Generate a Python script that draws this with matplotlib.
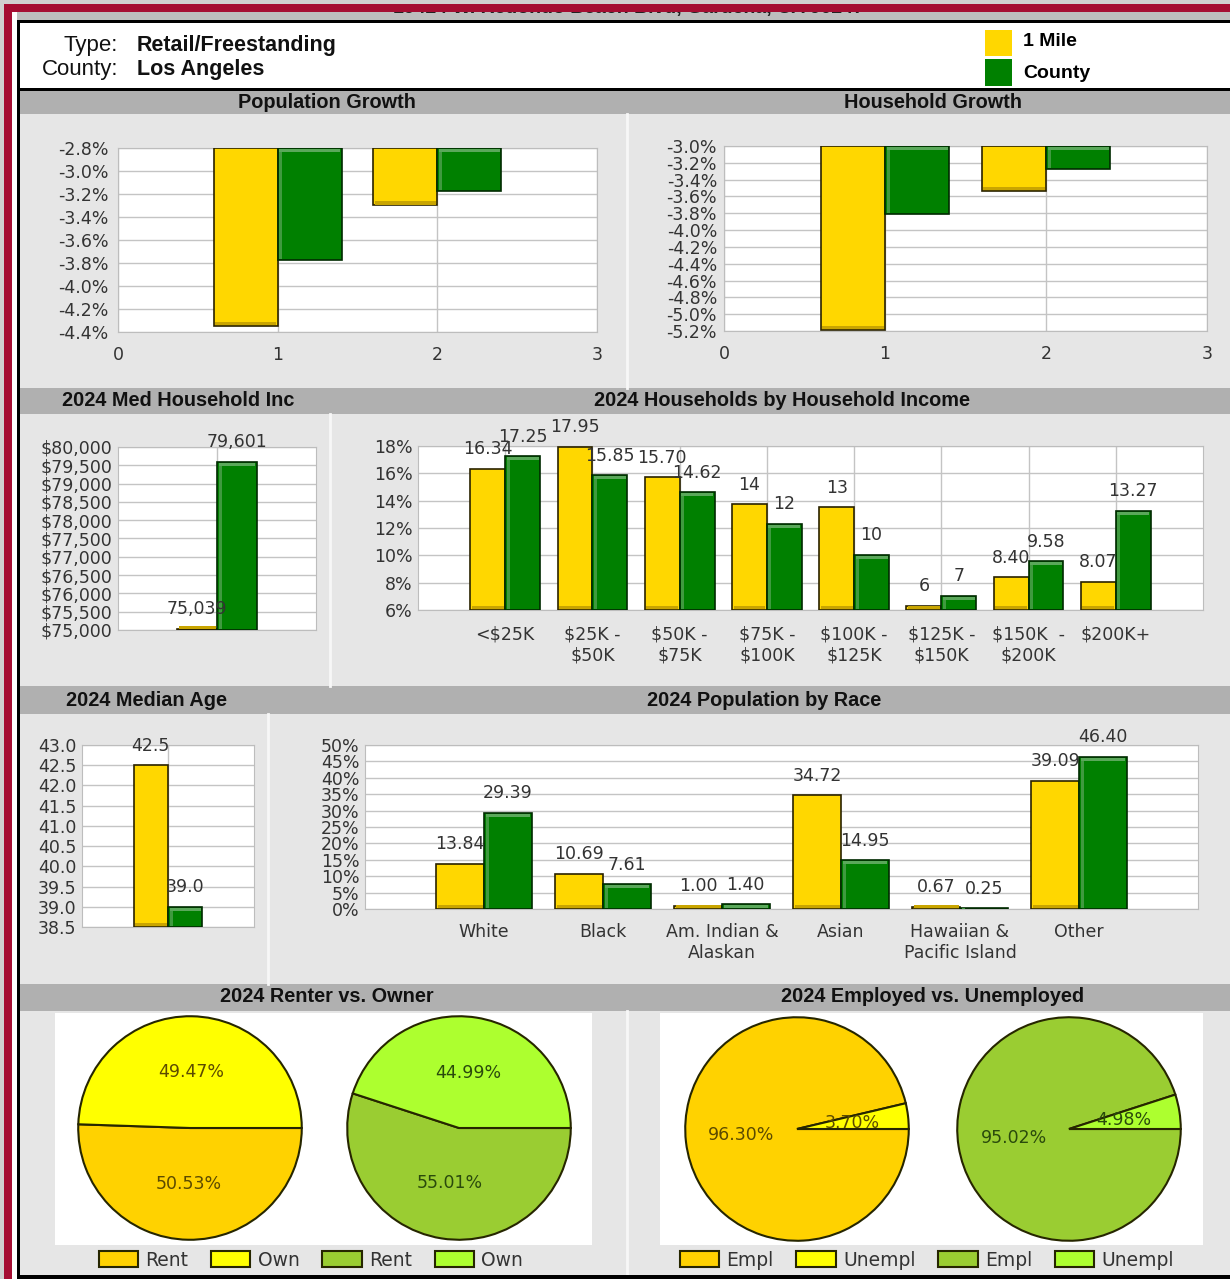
import numpy as np
import matplotlib.pyplot as plt
from matplotlib.patches import Rectangle
from matplotlib.ticker import FuncFormatter, MultipleLocator

W, H = 1230, 1279

# ---- data ----
address = "19424 W. Redondo Beach Blvd, Gardena, CA 90247"
prop_type = "Retail/Freestanding"
county = "Los Angeles"
series_names = ["1 Mile", "County"]

growth_x = [1, 2]
pop_growth_1mile = [-4.35, -3.30]
pop_growth_county = [-3.77, -3.17]
hh_growth_1mile = [-5.19, -3.54]
hh_growth_county = [-3.81, -3.27]

med_income = [75039, 79601]
med_age = [42.5, 39.0]

income_cats = ["<$25K", "$25K -\n$50K", "$50K -\n$75K", "$75K -\n$100K",
               "$100K -\n$125K", "$125K -\n$150K", "$150K  -\n$200K", "$200K+"]
income_1mile = [16.34, 17.95, 15.70, 13.75, 13.50, 6.30, 8.40, 8.07]
income_county = [17.25, 15.85, 14.62, 12.30, 10.05, 7.05, 9.58, 13.27]
income_1mile_lbl = ["16.34", "17.95", "15.70", "14", "13", "6", "8.40", "8.07"]
income_county_lbl = ["17.25", "15.85", "14.62", "12", "10", "7", "9.58", "13.27"]

race_cats = ["White", "Black", "Am. Indian &\nAlaskan", "Asian",
             "Hawaiian &\nPacific Island", "Other"]
race_1mile = [13.84, 10.69, 1.00, 34.72, 0.67, 39.09]
race_county = [29.39, 7.61, 1.40, 14.95, 0.25, 46.40]

tenure_labels = ["Rent", "Own"]
tenure_1mile = [50.53, 49.47]
tenure_county = [55.01, 44.99]
empl_labels = ["Empl", "Unempl"]
empl_1mile = [96.30, 3.70]
empl_county = [95.02, 4.98]

YELLOW = "#ffd700"
GREEN = "#008000"
TXT = "#333333"
HDR = "Liberation Sans"
FS = 12.5

fig = plt.figure(figsize=(W / 100, H / 100), dpi=100)
fig.patch.set_facecolor("#e6e6e6")

# background layer in pixel coordinates
bg = fig.add_axes([0, 0, 1, 1])
bg.set_xlim(0, W)
bg.set_ylim(H, 0)
bg.axis("off")


def rect(x0, y0, x1, y1, color, z=0):
    bg.add_patch(Rectangle((x0, y0), x1 - x0, y1 - y0, facecolor=color,
                           edgecolor="none", zorder=z))


rect(0, 0, W, 20, "#bdbdbd")
bg.text(628, 9, address, ha="center", va="center", fontsize=14,
        fontweight="bold", family=HDR, color="#222222", zorder=1)
rect(0, 0, W, 4, "#d0d0d0", 2)
rect(0, 4, W, 12, "#a50d32", 2)
rect(0, 4, 4, H, "#d0d0d0", 2)
rect(4, 4, 12, H, "#a50d32", 2)
rect(12, 12, 17, H, "#ffffff", 2)
rect(17, 20, 20, H, "#000000", 2)
rect(20, 20, W, 23, "#000000", 2)
rect(20, 23, W, 88, "#ffffff", 1)
rect(20, 88, W, 91, "#000000", 2)
rect(20, 1275, W, H, "#000000", 2)

# section header bars
for y0, y1 in [(91, 114), (388, 414), (686, 714), (984, 1011)]:
    rect(20, y0, W, y1, "#b0b0b0", 1)
# panel separators
for x, y0, y1 in [(627, 114, 388), (330, 414, 686), (268, 714, 984), (627, 1011, 1275)]:
    bg.plot([x, x], [y0, y1], color="#f7f7f7", lw=2, zorder=1)

titles = [("Population Growth", 327, 102), ("Household Growth", 933, 102),
          ("2024 Med Household Inc", 178, 401),
          ("2024 Households by Household Income", 782, 401),
          ("2024 Median Age", 147, 700), ("2024 Population by Race", 764, 700),
          ("2024 Renter vs. Owner", 327, 997),
          ("2024 Employed vs. Unemployed", 933, 997)]
for t, x, y in titles:
    bg.text(x, y, t, ha="center", va="center", fontsize=14.3, fontweight="bold",
            family=HDR, color="#111111", zorder=3)

# property info + legend
for y, lab, val in [(45, "Type:", prop_type), (69, "County:", county)]:
    bg.text(118, y, lab, ha="right", va="center", fontsize=16, family=HDR,
            color="#111111", zorder=3)
    bg.text(137, y, val, ha="left", va="center", fontsize=15.5, fontweight="bold",
            family=HDR, color="#111111", zorder=3)
rect(985, 30, 1012, 56, YELLOW, 3)
rect(985, 59, 1012, 86, GREEN, 3)
bg.text(1023, 42, series_names[0], ha="left", va="center", fontsize=14,
        fontweight="bold", family=HDR, zorder=3)
bg.text(1023, 73, series_names[1], ha="left", va="center", fontsize=14,
        fontweight="bold", family=HDR, zorder=3)

# pie white boxes
rect(55, 1013, 592, 1245, "#ffffff", 1)
rect(660, 1013, 1203, 1245, "#ffffff", 1)


def px_axes(x0, y0, x1, y1):
    return fig.add_axes([x0 / W, 1 - y1 / H, (x1 - x0) / W, (y1 - y0) / H])


def style(ax, ylo, yhi, step, fmt, xlim, xticks, xlabels, xpad=9, ypad=5, vgrid=True):
    ax.set_facecolor("white")
    ax.set_ylim(ylo, yhi)
    ax.set_xlim(*xlim)
    ax.yaxis.set_major_locator(MultipleLocator(step))
    ax.yaxis.set_major_formatter(FuncFormatter(fmt))
    ax.set_xticks(xticks)
    ax.set_xticklabels(xlabels)
    ax.grid(True, axis="y", color="#c4c4c4", lw=1, zorder=0)
    if vgrid:
        ax.grid(True, axis="x", color="#c4c4c4", lw=1, zorder=0)
    ax.set_axisbelow(True)
    for s in ax.spines.values():
        s.set_color("#bdbdbd")
    ax.tick_params(axis="y", length=0, labelsize=FS, labelcolor=TXT, pad=ypad)
    ax.tick_params(axis="x", length=0, labelsize=FS, labelcolor=TXT, pad=xpad)


def bar_pair(ax, x, v1, v2, base, width=0.4):
    x = np.asarray(x, dtype=float)
    v1 = np.asarray(v1, dtype=float)
    v2 = np.asarray(v2, dtype=float)
    ax.bar(x - width / 2, v1 - base, width, bottom=base, color=YELLOW,
           edgecolor="#2a2200", linewidth=1.2, zorder=3)
    ax.bar(x + width / 2, v2 - base, width, bottom=base, color=GREEN,
           edgecolor="#002a00", linewidth=1.2, zorder=3)
    # bevel: 3px strips, light on top/left of green, dark at the bottom of yellow
    pos = ax.get_position()
    y0, y1 = ax.get_ylim()
    x0, x1 = ax.get_xlim()
    py = (y1 - y0) / (pos.height * H)
    px = (x1 - x0) / (pos.width * W)
    s = 3
    lo1 = np.minimum(v1, base)
    lo2, hi2 = np.minimum(v2, base), np.maximum(v2, base)
    ax.bar(x - width / 2, s * py, width - 3 * px, bottom=lo1 + 1 * py,
           color="#c9a500", linewidth=0, zorder=3.5)
    ax.bar(x + width / 2, s * py, width - 3 * px, bottom=hi2 - (s + 1) * py,
           color="#5aa85a", linewidth=0, zorder=3.5)
    ax.bar(x + 1.5 * px + s * px / 2, hi2 - lo2 - 2 * py, s * px, bottom=lo2 + py,
           color="#3f9a3f", linewidth=0, zorder=3.4)


def bar_labels(ax, x, vals, labels, dx):
    for xi, v, s in zip(x, vals, labels):
        ax.annotate(s, (xi + dx, v), xytext=(0, 14), textcoords="offset points",
                    ha="center", va="center", fontsize=FS, color=TXT, zorder=4)


pct1 = lambda v, p: f"{v:.1f}%"
pct0 = lambda v, p: f"{v:.0f}%"

# Population growth
ax = px_axes(118, 148, 597, 332)
style(ax, -4.4, -2.8, 0.2, pct1, (0, 3), [0, 1, 2, 3], ["0", "1", "2", "3"], xpad=10, ypad=7)
bar_pair(ax, growth_x, pop_growth_1mile, pop_growth_county, -2.8)

# Household growth
ax = px_axes(724, 146, 1207, 331)
style(ax, -5.2, -3.0, 0.2, pct1, (0, 3), [0, 1, 2, 3], ["0", "1", "2", "3"], xpad=10, ypad=5)
bar_pair(ax, growth_x, hh_growth_1mile, hh_growth_county, -3.0)

# Median household income
ax = px_axes(118, 447, 316, 630)
style(ax, 75000, 80000, 500, lambda v, p: f"${v:,.0f}", (0, 2), [1], [""], ypad=4)
bar_pair(ax, [1], [med_income[0]], [med_income[1]], 75000)
bar_labels(ax, [1], [med_income[0]], [f"{med_income[0]:,}"], -0.2)
bar_labels(ax, [1], [med_income[1]], [f"{med_income[1]:,}"], 0.2)

# Households by income
ix = np.arange(1, len(income_cats) + 1)
ax = px_axes(418, 446, 1203, 610)
style(ax, 6, 18, 2, pct0, (0, len(income_cats) + 1), ix, income_cats, xpad=11, ypad=4)
bar_pair(ax, ix, income_1mile, income_county, 6)
bar_labels(ax, ix, income_1mile, income_1mile_lbl, -0.2)
bar_labels(ax, ix, income_county, income_county_lbl, 0.2)

# Median age
ax = px_axes(82, 745, 254, 927)
style(ax, 38.5, 43.0, 0.5, lambda v, p: f"{v:.1f}", (0, 2), [1], [""], ypad=4)
bar_pair(ax, [1], [med_age[0]], [med_age[1]], 38.5)
bar_labels(ax, [1], [med_age[0]], [f"{med_age[0]:.1f}"], -0.2)
bar_labels(ax, [1], [med_age[1]], [f"{med_age[1]:.1f}"], 0.2)

# Population by race
rx = np.arange(1, len(race_cats) + 1)
ax = px_axes(365, 745, 1198, 909)
style(ax, 0, 50, 5, pct0, (0, len(race_cats) + 1), rx, race_cats, xpad=10, ypad=4,
      vgrid=False)
bar_pair(ax, rx, race_1mile, race_county, 0)
bar_labels(ax, rx, race_1mile, [f"{v:.2f}" for v in race_1mile], -0.2)
bar_labels(ax, rx, race_county, [f"{v:.2f}" for v in race_county], 0.2)


# Pies
def pie(cx, cy, vals, colors, tcolor):
    ax = px_axes(cx - 114, cy - 114, cx + 114, cy + 114)
    wedges, _, _ = ax.pie(vals, colors=colors, startangle=0, counterclock=False,
                          autopct="%.2f%%", pctdistance=0.5, radius=1,
                          wedgeprops=dict(edgecolor="#262600", linewidth=1.5),
                          textprops=dict(fontsize=FS, color=tcolor))
    ax.set_xlim(-1.02, 1.02)
    ax.set_ylim(-1.02, 1.02)
    return wedges


w1 = pie(190, 1128, tenure_1mile, ["#ffd200", "#ffff00"], "#5b4a00")
w2 = pie(459, 1128, tenure_county, ["#9acd32", "#adff2f"], "#2a4a0c")
w3 = pie(797, 1129, empl_1mile, ["#ffd200", "#ffff00"], "#5b4a00")
w4 = pie(1069, 1129, empl_county, ["#9acd32", "#adff2f"], "#2a4a0c")

for wl, labels, cx in [(list(w1) + list(w2), tenure_labels * 2, 311),
                       (list(w3) + list(w4), empl_labels * 2, 927)]:
    fig.legend(wl, labels, loc="center", bbox_to_anchor=(cx / W, 1 - 1260 / H),
               ncol=4, frameon=False, fontsize=13.5, handlelength=2.1,
               handleheight=0.95, columnspacing=1.2, handletextpad=0.4,
               labelcolor="#333333")

fig.savefig("out.png", dpi=100, facecolor=fig.get_facecolor())
